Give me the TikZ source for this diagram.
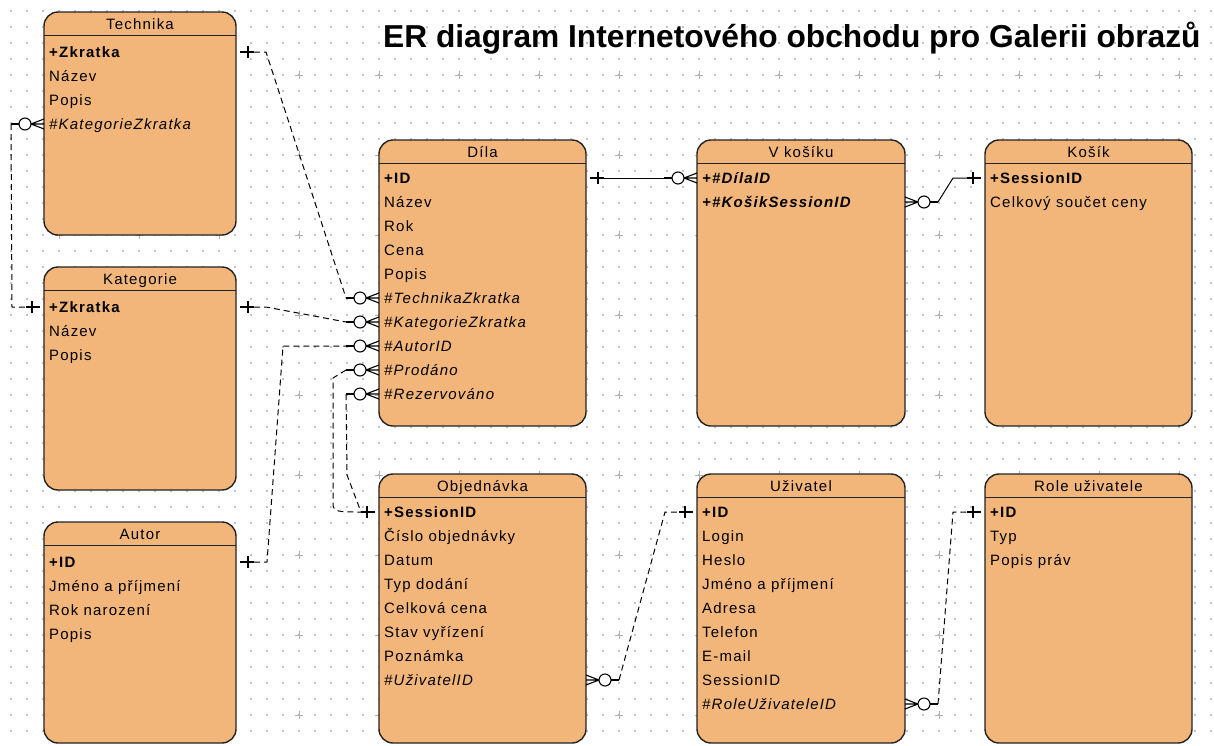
\documentclass[tikz,border=0pt]{standalone}
\usepackage{fontspec}
\setmainfont{Liberation Sans}[LetterSpace=8]
\newfontfamily\titlefont{Liberation Sans}
\usetikzlibrary{calc}
\definecolor{entc}{RGB}{242,182,122}
\definecolor{boxc}{RGB}{35,35,35}
\definecolor{gridc}{RGB}{195,195,195}
\definecolor{plusc}{RGB}{175,175,175}
\newcommand\onemk[2]{%
  \draw[mk] ($(#1)+(#2*4,0)$) -- ($(#1)+(#2*18,0)$);
  \draw[mk] ($(#1)+(#2*12,-6)$) -- ($(#1)+(#2*12,6)$);
}
\newcommand\zmmk[2]{%
  \draw[mk] ($(#1)+(#2*13,0)$) -- ($(#1)+(0,-5)$) ($(#1)+(#2*13,0)$) -- (#1) ($(#1)+(#2*13,0)$) -- ($(#1)+(0,5)$);
  \draw[mk,fill=white] ($(#1)+(#2*19,0)$) circle[radius=6pt];
  \draw[mk] ($(#1)+(#2*25,0)$) -- ($(#1)+(#2*33,0)$);
}
\newcommand\ent[6]{%
  \node[entbox, minimum width={#4-#2}, minimum height={#5-#3}, anchor=north west] (#1) at (#2,#3) {};
  \draw[entline] ([yshift=-23.5pt]#1.north west) -- ([yshift=-23.5pt]#1.north east);
  \node[hdr] (#1-t) at ([yshift=-12pt]#1.north) {#6};
}
\begin{document}
\begin{tikzpicture}[x=1pt,y=-1pt,
  entbox/.style={draw=boxc, fill=entc, line width=1.4pt, rounded corners=14pt, inner sep=0pt, outer sep=0pt},
  entline/.style={draw=boxc, line width=1.2pt},
  hdr/.style={font=\fontsize{15}{18}\selectfont, inner sep=0pt, text height=10pt, text depth=0pt},
  rowt/.style={anchor=west, font=\fontsize{15}{18}\selectfont, inner sep=0pt, text height=10pt, text depth=0pt},
  rel/.style={line width=1pt, dash pattern=on 6pt off 4pt},
  idrel/.style={line width=1pt},
  mk/.style={line width=1.1pt},
  ]
\useasboundingbox (0,0) rectangle (1214,745);
\fill[white] (0,0) rectangle (1214,745);
% grid
\foreach \i in {0,...,75} {
  \draw[gridc, line width=1.3pt, dash pattern=on 1.3pt off 14.7pt] (11+16*\i,10.35) -- (11+16*\i,745);
}
\foreach \px in {59,139,...,1179} {
  \foreach \py in {-5,75,...,715} {
    \draw[plusc, line width=0.8pt] (\px-4,\py) -- (\px+4,\py) (\px,\py-4) -- (\px,\py+4);
  }
}
% title
\node[anchor=base west, inner sep=0pt, font=\titlefont\bfseries\fontsize{31.7}{36}\selectfont] (title) at (383,47) {ER diagram Internetového obchodu pro Galerii obrazů};
% entities
\ent{tech}{44}{12}{236}{235}{Technika}
\ent{kat}{44}{267}{236}{490}{Kategorie}
\ent{autor}{44}{522}{236}{743}{Autor}
\ent{dila}{379}{140}{586}{426}{Díla}
\ent{vk}{697}{140}{905}{426}{V košíku}
\ent{kosik}{985}{140}{1192}{426}{Košík}
\ent{obj}{379}{474}{586}{743}{Objednávka}
\ent{uziv}{697}{474}{905}{743}{Uživatel}
\ent{role}{985}{474}{1192}{743}{Role uživatele}
% rows
\node[rowt] (tech1) at (49,52) {\textbf{+Zkratka}};
\node[rowt] (tech2) at (49,76) {Název};
\node[rowt] (tech3) at (49,100) {Popis};
\node[rowt] (tech4) at (49,124) {\textit{\#KategorieZkratka}};
\node[rowt] (kat1) at (49,307) {\textbf{+Zkratka}};
\node[rowt] (kat2) at (49,331) {Název};
\node[rowt] (kat3) at (49,355) {Popis};
\node[rowt] (autor1) at (49,562) {\textbf{+ID}};
\node[rowt] (autor2) at (49,586) {Jméno a příjmení};
\node[rowt] (autor3) at (49,610) {Rok narození};
\node[rowt] (autor4) at (49,634) {Popis};
\node[rowt] (dila1) at (384,178) {\textbf{+ID}};
\node[rowt] (dila2) at (384,202) {Název};
\node[rowt] (dila3) at (384,226) {Rok};
\node[rowt] (dila4) at (384,250) {Cena};
\node[rowt] (dila5) at (384,274) {Popis};
\node[rowt] (dila6) at (384,298) {\textit{\#TechnikaZkratka}};
\node[rowt] (dila7) at (384,322) {\textit{\#KategorieZkratka}};
\node[rowt] (dila8) at (384,346) {\textit{\#AutorID}};
\node[rowt] (dila9) at (384,370) {\textit{\#Prodáno}};
\node[rowt] (dila10) at (384,394) {\textit{\#Rezervováno}};
\node[rowt] (vk1) at (702,178) {\textbf{\textit{+\#DílaID}}};
\node[rowt] (vk2) at (702,202) {\textbf{\textit{+\#KošikSessionID}}};
\node[rowt] (kosik1) at (990,178) {\textbf{+SessionID}};
\node[rowt] (kosik2) at (990,202) {Celkový součet ceny};
\node[rowt] (obj1) at (384,512) {\textbf{+SessionID}};
\node[rowt] (obj2) at (384,536) {Číslo objednávky};
\node[rowt] (obj3) at (384,560) {Datum};
\node[rowt] (obj4) at (384,584) {Typ dodání};
\node[rowt] (obj5) at (384,608) {Celková cena};
\node[rowt] (obj6) at (384,632) {Stav vyřízení};
\node[rowt] (obj7) at (384,656) {Poznámka};
\node[rowt] (obj8) at (384,680) {\textit{\#UživatelID}};
\node[rowt] (uziv1) at (702,512) {\textbf{+ID}};
\node[rowt] (uziv2) at (702,536) {Login};
\node[rowt] (uziv3) at (702,560) {Heslo};
\node[rowt] (uziv4) at (702,584) {Jméno a příjmení};
\node[rowt] (uziv5) at (702,608) {Adresa};
\node[rowt] (uziv6) at (702,632) {Telefon};
\node[rowt] (uziv7) at (702,656) {E-mail};
\node[rowt] (uziv8) at (702,680) {SessionID};
\node[rowt] (uziv9) at (702,704) {\textit{\#RoleUživateleID}};
\node[rowt] (role1) at (990,512) {\textbf{+ID}};
\node[rowt] (role2) at (990,536) {Typ};
\node[rowt] (role3) at (990,560) {Popis práv};
% connection points
\coordinate (aT) at (tech.east |- tech1);
\coordinate (bT) at (dila.west |- dila6);
\coordinate (aK) at (kat.east |- kat1);
\coordinate (bK) at (dila.west |- dila7);
\coordinate (aA) at (autor.east |- autor1);
\coordinate (bA) at (dila.west |- dila8);
\coordinate (aO) at (obj.west |- obj1);
\coordinate (bP) at (dila.west |- dila9);
\coordinate (bR) at (dila.west |- dila10);
\coordinate (aD) at (dila.east |- dila1);
\coordinate (bD) at (vk.west |- vk1);
\coordinate (aS) at (kosik.west |- kosik1);
\coordinate (bS) at (vk.east |- vk2);
\coordinate (aU) at (uziv.west |- uziv1);
\coordinate (bU) at (obj.east |- obj8);
\coordinate (aR) at (role.west |- role1);
\coordinate (bRo) at (uziv.east |- uziv9);
\coordinate (aKt) at (kat.west |- kat1);
\coordinate (bKt) at (tech.west |- tech4);
% markers
\onemk{aT}{1} \zmmk{bT}{-1}
\onemk{aK}{1} \zmmk{bK}{-1}
\onemk{aA}{1} \zmmk{bA}{-1}
\onemk{aO}{-1} \zmmk{bP}{-1} \zmmk{bR}{-1}
\onemk{aD}{1} \zmmk{bD}{-1}
\onemk{aS}{-1} \zmmk{bS}{1}
\onemk{aU}{-1} \zmmk{bU}{1}
\onemk{aR}{-1} \zmmk{bRo}{1}
\onemk{aKt}{-1} \zmmk{bKt}{-1}
% connectors
\draw[rel] ($(aT)+(18,0)$) -- ($(aT)+(30,0)$) -- ($(bT)+(-33,0)$);
\draw[rel] ($(aK)+(18,0)$) -- ($(aK)+(30,0)$) -- ($(bK)+(-33,0)$);
\draw[rel] ($(aA)+(18,0)$) -- ($(aA)+(31,0)$) -- ($(bA)+(-96,0)$) -- ($(bA)+(-33,0)$);
\draw[rel] ($(bP)+(-33,0)$) -- ($(bP)+(-46,8)$) -- ($(aO)+(-46,-8)$) .. controls ($(aO)+(-46,0)$) and ($(aO)+(-40,0)$) .. ($(aO)+(-18,0)$);
\draw[rel] ($(bR)+(-33,0)$) -- ($(bR)+(-32,81)$) -- ($(aO)+(-18,0)$);
\draw[idrel] ($(aD)+(18,0)$) -- ($(bD)+(-33,0)$);
\draw[idrel] ($(bS)+(33,0)$) -- ($(aS)+(-32,0)$) -- ($(aS)+(-18,0)$);
\draw[rel] ($(bU)+(33,0)$) -- ($(aU)+(-32,0)$) -- ($(aU)+(-18,0)$);
\draw[rel] ($(bRo)+(33,0)$) -- ($(aR)+(-32,0)$) -- ($(aR)+(-18,0)$);
\draw[rel] ($(bKt)+(-33,0)$) -- ($(aKt)+(-32,0)$) -- ($(aKt)+(-18,0)$);
\end{tikzpicture}
\end{document}
